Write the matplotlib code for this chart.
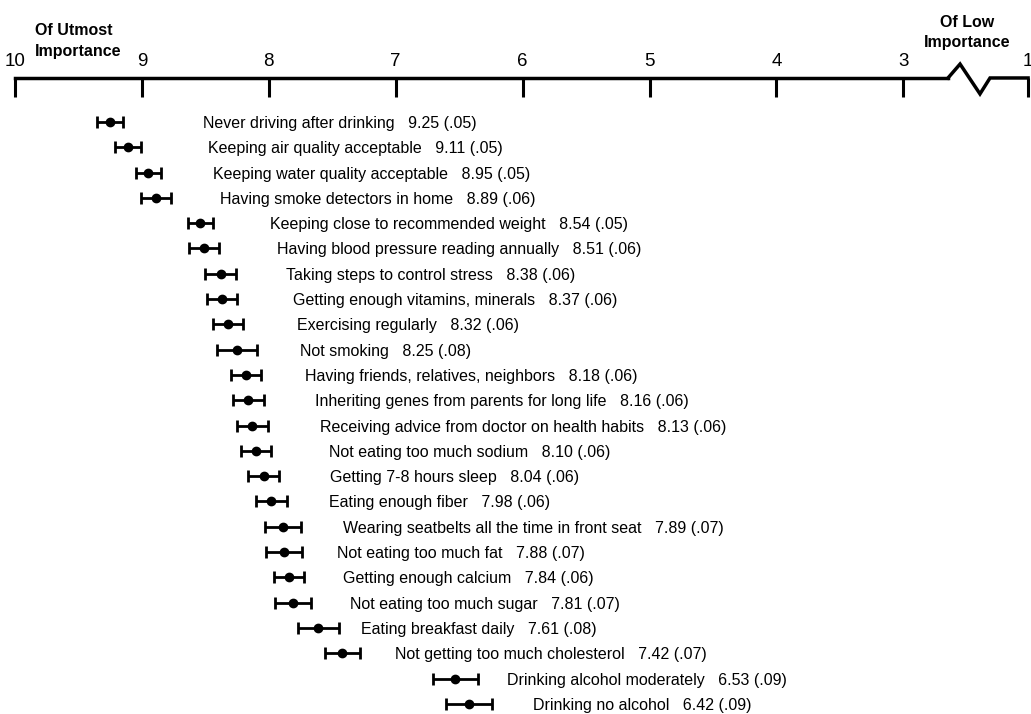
import matplotlib.pyplot as plt

plt.rcParams['font.family'] = ['Liberation Sans', 'DejaVu Sans']

# Оценки важности (10 - самое важное), в скобках стандартная ошибка
behaviors = [
    "Never driving after drinking",
    "Keeping air quality acceptable",
    "Keeping water quality acceptable",
    "Having smoke detectors in home",
    "Keeping close to recommended weight",
    "Having blood pressure reading annually",
    "Taking steps to control stress",
    "Getting enough vitamins, minerals",
    "Exercising regularly",
    "Not smoking",
    "Having friends, relatives, neighbors",
    "Inheriting genes from parents for long life",
    "Receiving advice from doctor on health habits",
    "Not eating too much sodium",
    "Getting 7-8 hours sleep",
    "Eating enough fiber",
    "Wearing seatbelts all the time in front seat",
    "Not eating too much fat",
    "Getting enough calcium",
    "Not eating too much sugar",
    "Eating breakfast daily",
    "Not getting too much cholesterol",
    "Drinking alcohol moderately",
    "Drinking no alcohol",
]
means = [9.25, 9.11, 8.95, 8.89, 8.54, 8.51, 8.38, 8.37, 8.32, 8.25, 8.18, 8.16,
         8.13, 8.10, 8.04, 7.98, 7.89, 7.88, 7.84, 7.81, 7.61, 7.42, 6.53, 6.42]
std_errors = [.05, .05, .05, .06, .05, .06, .06, .06, .06, .08, .06, .06,
              .06, .06, .06, .06, .07, .07, .06, .07, .08, .07, .09, .09]

# Шкала: между 3 и 1 разрыв, поэтому "1" стоит ближе
scale_ticks = [10, 9, 8, 7, 6, 5, 4, 3, 2.017]
scale_labels = ["10", "9", "8", "7", "6", "5", "4", "3", "1"]

# Отступ подписи от точки, в пикселях
label_gaps = [93, 80, 65, 64, 70, 73, 65, 71, 69, 63, 59, 67,
              68, 73, 66, 58, 60, 53, 54, 57, 43, 53, 52, 64]

fig = plt.figure(figsize=(10.31, 7.14), dpi=100)
ax = fig.add_axes([0, 0, 1, 1])

rows = list(range(len(means)))
ax.errorbar(means, rows, xerr=[2.0 * s for s in std_errors], fmt='o',
            color='black', ms=6, elinewidth=2, capsize=4.3, capthick=2)

ax.set_xlim(10.118, 1.994)
ax.set_ylim(23.40, -4.822)

# Верхняя шкала
axis_y = -1.74
for side in ['left', 'right', 'bottom']:
    ax.spines[side].set_visible(False)
ax.spines['top'].set_position(('data', axis_y))
ax.spines['top'].set_bounds(10, 2.648)
ax.spines['top'].set_linewidth(2.5)
ax.xaxis.set_ticks_position('top')
ax.set_xticks(scale_ticks, scale_labels)
ax.tick_params(axis='x', direction='in', length=13.5, width=2.2, pad=6,
               labelsize=13.5)
ax.set_yticks([])

# Зигзаг разрыва шкалы
ax.plot([2.648, 2.553, 2.396, 2.317, 2.017],
        [axis_y, axis_y - 0.55, axis_y + 0.63, axis_y, axis_y],
        color='black', lw=2.5, solid_joinstyle='miter', clip_on=False)

for i, (name, m, s, gap) in enumerate(zip(behaviors, means, std_errors, label_gaps)):
    se_txt = f"{s:.2f}".lstrip("0")
    ax.annotate(f"{name}   {m:.2f} ({se_txt})", xy=(m, i), xytext=(gap, -6),
                textcoords='offset pixels', ha='left', va='baseline',
                fontsize=11.5)

title_font = dict(fontsize=11.5, fontweight='bold')
W, H = 1031, 714
fig.text(35 / W, 1 - 35 / H, "Of Utmost", ha='left', va='baseline', **title_font)
fig.text(35 / W, 1 - 56 / H, "Importance", ha='left', va='baseline', **title_font)
fig.text(967 / W, 1 - 27 / H, "Of Low", ha='center', va='baseline', **title_font)
fig.text(967 / W, 1 - 47 / H, "Importance", ha='center', va='baseline', **title_font)

plt.savefig('out.png', dpi=100)
